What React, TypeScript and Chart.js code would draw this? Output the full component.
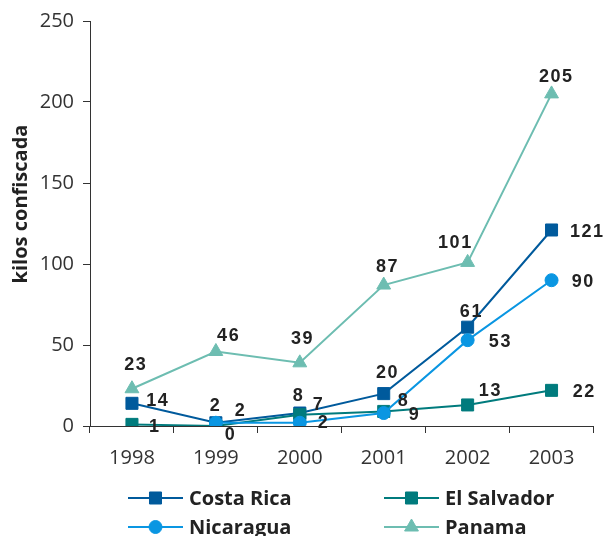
import { useEffect, useRef } from "react";
import { Chart, registerables } from "chart.js";
Chart.register(...registerables);

const years = ["1998", "1999", "2000", "2001", "2002", "2003"];
const costaRica = [14, 2, 8, 20, 61, 121];
const elSalvador = [1, 0, 7, 9, 13, 22];
const nicaragua = [null, 2, 2, 8, 53, 90];
const panama = [23, 46, 39, 87, 101, 205];
const yTicks = [0, 50, 100, 150, 200, 250];
const seriesNames = ["Costa Rica", "El Salvador", "Nicaragua", "Panama"];

// label offsets (style only) relative to each point
const costaRicaOff = [[25, -4], [-1, -18], [-2, -19], [3, -22], [3, -17], [35, 1]];
const elSalvadorOff = [[22, 1], [14, 7], [18, -11], [30, 2], [22, -15], [32, 0]];
const nicaraguaOff = [null, [24, -13], [23, -1], [19, -14], [32, 0], [31, 0]];
const panamaOff = [[3, -25], [12, -17], [2, -25], [3, -20], [-13, -21], [4, -18]];

const COLORS = ["#005A9C", "#007B7D", "#0A96E2", "#6DBDB1"];
const STYLES = ["rect", "rect", "circle", "triangle"];
const RADII = [8.5, 8.5, 6.5, 8];

export default function App() {
  const ref = useRef<HTMLCanvasElement>(null);
  useEffect(() => {
    const canvas = ref.current!;
    const offsets = [costaRicaOff, elSalvadorOff, nicaraguaOff, panamaOff];
    function drawMarker(ctx: CanvasRenderingContext2D, style: string, r: number, x: number, y: number) {
      ctx.beginPath();
      if (style === "rect") {
        const s = Math.SQRT1_2 * r;
        ctx.rect(x - s, y - s, 2 * s, 2 * s);
      } else if (style === "circle") {
        ctx.arc(x, y, r, 0, Math.PI * 2);
      } else {
        let rad = 0;
        ctx.moveTo(x + Math.sin(rad) * r, y - Math.cos(rad) * r);
        rad += (2 * Math.PI) / 3;
        ctx.lineTo(x + Math.sin(rad) * r, y - Math.cos(rad) * r);
        rad += (2 * Math.PI) / 3;
        ctx.lineTo(x + Math.sin(rad) * r, y - Math.cos(rad) * r);
        ctx.closePath();
      }
      ctx.fill();
      ctx.stroke();
    }
    const labelsPlugin = {
      id: "customLabels",
      afterDatasetsDraw(chart: any) {
        const ctx = chart.ctx;
        ctx.save();
        ctx.font = "bold 18px 'Liberation Sans', Arial, sans-serif";
        (ctx as any).letterSpacing = "1.5px";
        ctx.fillStyle = "#222";
        ctx.textAlign = "center";
        ctx.textBaseline = "alphabetic";
        chart.data.datasets.forEach((ds: any, i: number) => {
          const meta = chart.getDatasetMeta(i);
          meta.data.forEach((pt: any, j: number) => {
            const v = ds.data[j];
            const off = offsets[i][j];
            if (v === null || !off) return;
            ctx.fillText(String(v), pt.x + off[0] + 0.75, pt.y + off[1] + 6.5);
          });
        });
        ctx.restore();
      },
      afterDraw(chart: any) {
        const ctx = chart.ctx;
        ctx.save();
        // y-axis title
        ctx.translate(21, 204);
        ctx.rotate(-Math.PI / 2);
        ctx.font = "bold 20px 'Open Sans', sans-serif";
        ctx.fillStyle = "#222";
        ctx.textAlign = "center";
        ctx.textBaseline = "middle";
        ctx.fillText("kilos confiscada", 0, 0);
        ctx.restore();
        // legend
        const cols = [128, 384];
        const rows = [498, 527];
        chart.data.datasets.forEach((ds: any, i: number) => {
          const x0 = cols[i % 2];
          const y = rows[Math.floor(i / 2)];
          ctx.save();
          ctx.strokeStyle = COLORS[i];
          ctx.lineWidth = 2;
          ctx.beginPath();
          ctx.moveTo(x0, y);
          ctx.lineTo(x0 + 55, y);
          ctx.stroke();
          ctx.fillStyle = COLORS[i];
          ctx.lineWidth = 1;
          drawMarker(ctx, STYLES[i], RADII[i], x0 + 27.5, y);
          ctx.font = "bold 20px 'Open Sans', sans-serif";
          ctx.fillStyle = "#222";
          ctx.textAlign = "left";
          ctx.textBaseline = "middle";
          ctx.fillText(ds.label, x0 + 61, y + 1);
          ctx.restore();
        });
      },
    };
    const series = [costaRica, elSalvador, nicaragua, panama];
    const chart = new Chart(canvas, {
      type: "line",
      data: {
        labels: years,
        datasets: series.map((d, i) => ({
          label: seriesNames[i],
          data: d as any,
          borderColor: COLORS[i],
          backgroundColor: COLORS[i],
          pointBackgroundColor: COLORS[i],
          pointBorderColor: COLORS[i],
          pointStyle: STYLES[i] as any,
          pointRadius: RADII[i],
          pointBorderWidth: 1,
          borderWidth: 2,
          tension: 0,
          order: 3 - i,
        })),
      },
      options: {
        responsive: false,
        animation: false,
        layout: { padding: { left: 0, right: 6, top: 21, bottom: 0 } },
        plugins: { legend: { display: false }, tooltip: { enabled: false } },
        scales: {
          x: {
            offset: true,
            grid: { offset: true, drawOnChartArea: false, drawTicks: true, tickLength: 7, color: "#333" },
            border: { color: "#333", width: 1 },
            ticks: { font: { family: "'Open Sans', sans-serif", size: 20 }, color: "#333", padding: 13, maxRotation: 0 },
            afterFit: (s: any) => { s.height = 119; },
          },
          y: {
            min: 0,
            max: 250,
            afterBuildTicks: (s: any) => { s.ticks = yTicks.map((v) => ({ value: v })); },
            ticks: { font: { family: "'Open Sans', sans-serif", size: 20 }, color: "#333", padding: 9 },
            grid: { drawOnChartArea: false, drawTicks: true, tickLength: 7, color: "#333" },
            border: { color: "#333", width: 1 },
            afterFit: (s: any) => { s.width = 90; },
          },
        },
      },
      plugins: [labelsPlugin],
    });
    return () => chart.destroy();
  }, []);
  return (
    <div style={{ position: "fixed", left: 0, top: 0, width: 603, height: 536, overflow: "hidden", background: "#fff" }}>
      <canvas ref={ref} width={603} height={545} style={{ width: 603, height: 545, display: "block" }} />
    </div>
  );
}
